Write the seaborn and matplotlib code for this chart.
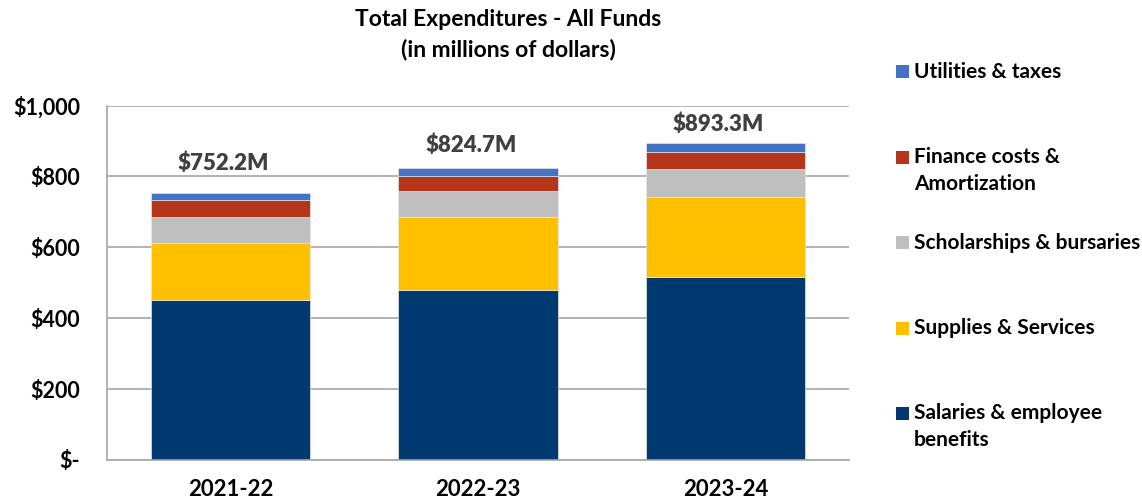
import matplotlib
matplotlib.use("Agg")
import matplotlib.pyplot as plt
import seaborn as sns
import pandas as pd
import numpy as np

# Fiscal years and expenditure categories (millions of dollars)
years = ["2021-22", "2022-23", "2023-24"]
salaries = [450.7, 479.0, 517.4]
supplies = [160.8, 206.0, 224.9]
scholarships = [73.5, 73.3, 78.0]
finance = [48.0, 44.1, 49.9]
utilities = [19.2, 22.3, 23.1]
totals = [752.2, 824.7, 893.3]
total_labels = ["$752.2M", "$824.7M", "$893.3M"]

categories = [
    "Salaries & employee\nbenefits",
    "Supplies & Services",
    "Scholarships & bursaries",
    "Finance costs &\nAmortization",
    "Utilities & taxes",
]
series = [salaries, supplies, scholarships, finance, utilities]
colors = ["#003870", "#FFC000", "#BFBFBF", "#B5361A", "#4472C4"]

y_ticks = [0, 200, 400, 600, 800, 1000]
y_tick_labels = ["$-", "$200", "$400", "$600", "$800", "$1,000"]

sns.set_style("white")
plt.rcParams["font.family"] = ["Lato", "DejaVu Sans"]

W, H = 1142, 503
fig = plt.figure(figsize=(W / 100, H / 100), dpi=100)
ax = fig.add_axes([107 / W, 1 - 460 / H, (849 - 107) / W, (460 - 105.5) / H])

df = pd.DataFrame({"year": years})
bottom = np.zeros(len(years))
for name, vals, col in zip(categories, series, colors):
    df["value"] = vals
    sns.barplot(data=df, x="year", y="value", color=col, bottom=bottom,
                width=0.645, ax=ax, edgecolor="#e6e6e6", linewidth=0.5,
                saturation=1)
    bottom = bottom + np.array(vals)

ax.set_ylim(0, 1000)
ax.set_xlim(-0.5, 2.5)
ax.set_yticks(y_ticks)
ax.set_yticklabels(y_tick_labels, fontsize=15.5, fontweight="bold", color="black")
ax.set_xticks(range(len(years)))
ax.set_xticklabels(years, fontsize=16, fontweight="bold", color="black")
ax.tick_params(axis="y", length=0, pad=19.5)
ax.tick_params(axis="x", length=0, pad=14)
ax.set_xlabel("")
ax.set_ylabel("")

ax.yaxis.grid(True, color="#a6a6a6", linewidth=1.2)
ax.set_axisbelow(True)
for side in ["top", "right"]:
    ax.spines[side].set_visible(False)
for side in ["left", "bottom"]:
    ax.spines[side].set_color("#a6a6a6")
    ax.spines[side].set_linewidth(1.2)

# Total labels above each stacked bar
lifts = [85, 64, 55]
for i, (tot, lab, lift) in enumerate(zip(totals, total_labels, lifts)):
    ax.annotate(lab, xy=(i, tot + lift), xytext=(-5, 0), textcoords="offset points",
                ha="center", va="center", fontsize=16, fontweight=800,
                color="#404040")

fig.text(0.445, 1 - 20 / H, "Total Expenditures - All Funds", ha="center",
         va="center", fontsize=16.5, fontweight="bold", color="black")
fig.text(0.445, 1 - 49 / H, "(in millions of dollars)", ha="center",
         va="center", fontsize=16.5, fontweight="bold", color="black")

# Legend: marker square beside the first line of each entry
legend_px = [72, 157, 243, 328, 413]
line_px = 27
for name, col, py in zip(categories[::-1], colors[::-1], legend_px):
    nlines = name.count("\n") + 1
    fig.patches.append(plt.Rectangle(
        (896 / W, 1 - (py + 6.5) / H), 13 / W, 13 / H,
        transform=fig.transFigure, facecolor=col, edgecolor="none"))
    ty = py + (nlines - 1) * line_px / 2
    fig.text(914 / W, 1 - ty / H, name, ha="left", va="center",
             fontsize=15, fontweight="bold", color="black", linespacing=1.42)

fig.savefig("out.png", dpi=100)
